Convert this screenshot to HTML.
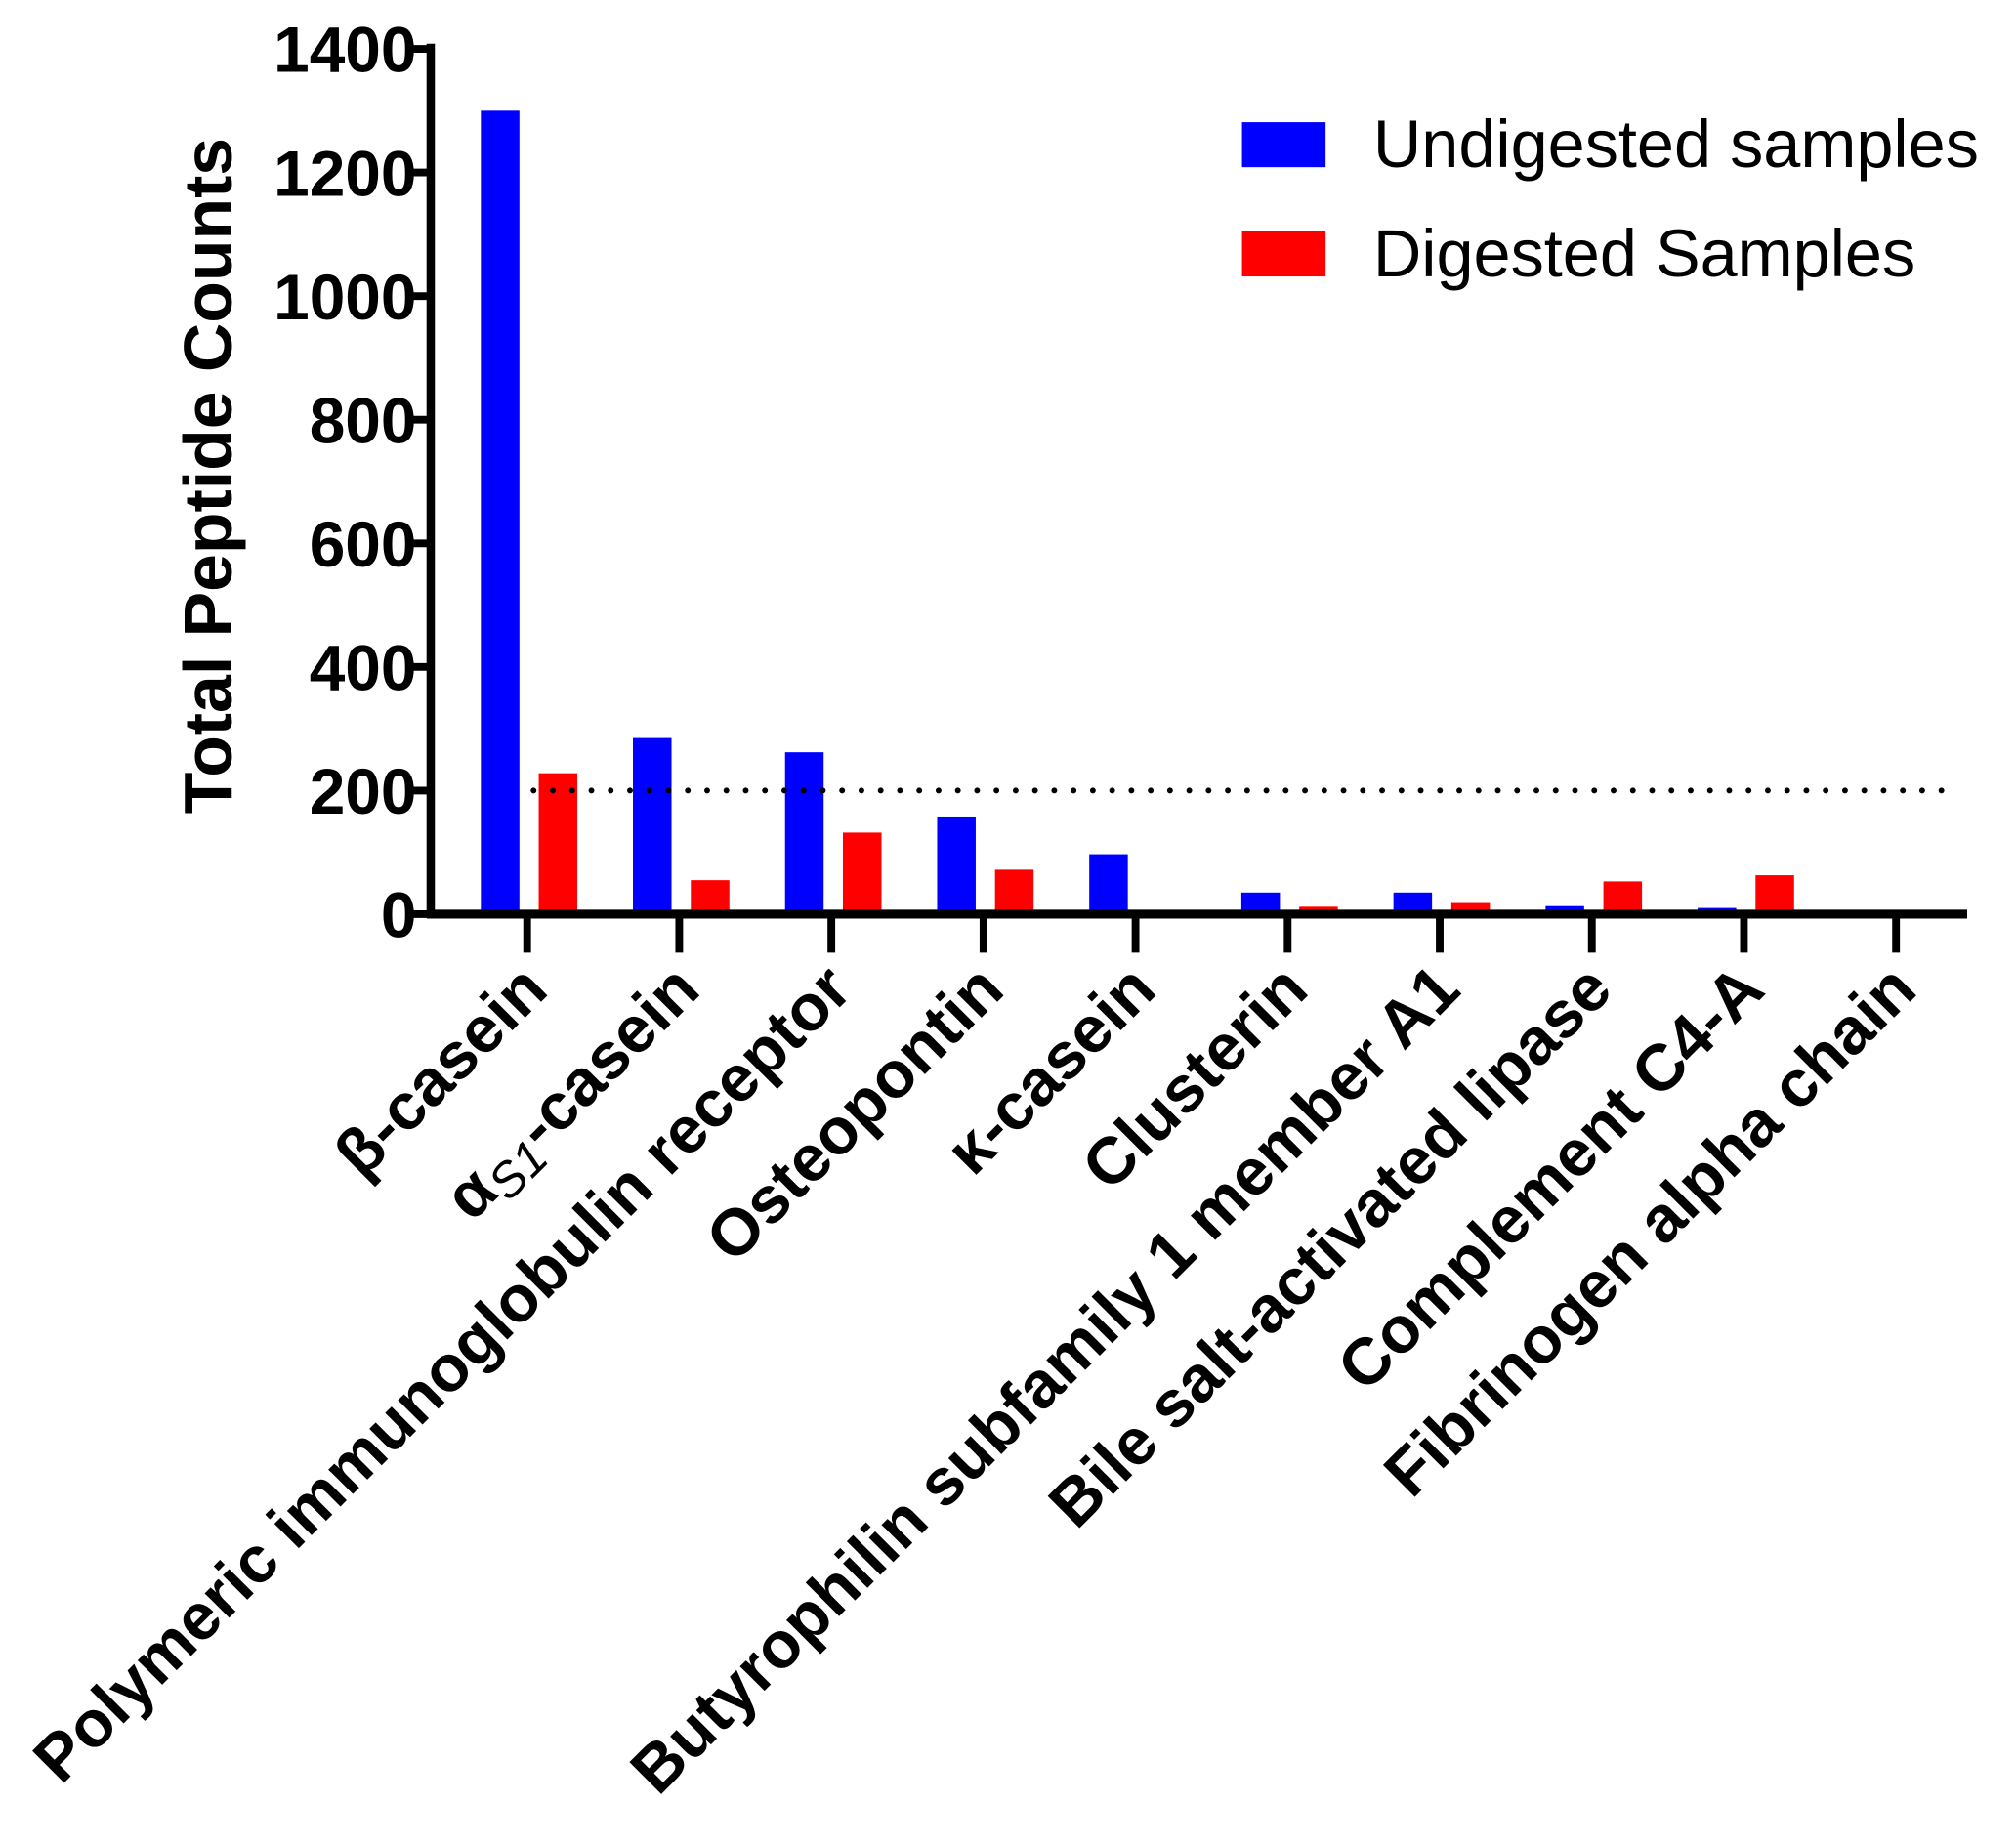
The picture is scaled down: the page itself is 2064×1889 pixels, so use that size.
<!DOCTYPE html>
<html><head><meta charset="utf-8"><style>
html,body{margin:0;padding:0;background:#fff;}
svg{display:block;font-family:"Liberation Sans",Arial,sans-serif;}
</style></head><body>
<svg id="chart" width="2064" height="1889" viewBox="0 0 1568 1435" xmlns="http://www.w3.org/2000/svg">
<g id="plot"></g>
</svg>
<script>
const categories = ["β-casein","αS1-casein","Polymeric immunoglobulin receptor","Osteopontin","κ-casein","Clusterin","Butyrophilin subfamily 1 member A1","Bile salt-activated lipase","Complement C4-A","Fibrinogen alpha chain"];
const undigested = [1300,285,262,158,97,35,35,13,10,5];
const digested = [228,55,132,72,0,12,18,53,63,0];
const yTicks = [0,200,400,600,800,1000,1200,1400];
const threshold = [200];

const NS="http://www.w3.org/2000/svg";
const g=document.getElementById('plot');
const x0=335, x1=1530, yTop=38, yBot=711, yMax=1400;
const yScale=v=>yBot-(v/yMax)*(yBot-yTop);
const xTick=i=>410+i*118.3;
function el(t,a,p){const e=document.createElementNS(NS,t);for(const k in a)e.setAttribute(k,a[k]);(p||g).appendChild(e);return e;}

categories.forEach((c,i)=>{
  const cx=xTick(i);
  let b=el('rect',{x:cx-36,y:yScale(undigested[i]),width:30,height:yBot-yScale(undigested[i]),fill:'#0000ff'});
  
  
  let r=el('rect',{x:cx+9,y:yScale(digested[i]),width:30,height:yBot-yScale(digested[i]),fill:'#ff0000'});
  
  
});
let th=el('line',{x1:415,x2:1525,y1:yScale(threshold[0]),y2:yScale(threshold[0]),stroke:'#000','stroke-width':4.5,'stroke-dasharray':'0 15','stroke-linecap':'round'});


let ya=el('line',{x1:x0,x2:x0,y1:34,y2:714,stroke:'#000','stroke-width':6.5});


let xa=el('line',{x1:332,x2:x1,y1:yBot,y2:yBot,stroke:'#000','stroke-width':7});


yTicks.forEach(v=>{
  const y=yScale(v);
  el('line',{x1:318,x2:x0,y1:y,y2:y,stroke:'#000','stroke-width':6});
  let t=el('text',{x:324,y:y+18,'text-anchor':'end','font-size':50,'font-weight':'bold'});
  t.textContent=v;
  
  
});
categories.forEach((c,i)=>{
  const cx=xTick(i);
  el('line',{x1:cx,x2:cx,y1:yBot,y2:741,stroke:'#000','stroke-width':6});
  const ax=cx+18, ay=772;
  let t=el('text',{x:ax,y:ay,'text-anchor':'end','font-size':51,'font-weight':'bold',transform:`rotate(-45 ${ax} ${ay})`});
  if(c.startsWith('αS1')){
    const a=el('tspan',{},t);a.textContent='α';
    const s=el('tspan',{'font-weight':'normal','font-style':'italic','font-size':38,dy:9},t);s.textContent='S1';
    const r=el('tspan',{dy:-9},t);r.textContent=c.slice(3);
  } else t.textContent=c;
  
  
});
let yt=el('text',{x:180,y:370,'text-anchor':'middle','font-size':53,'font-weight':'bold',transform:'rotate(-90 180 370)'});
yt.textContent='Total Peptide Counts';


let l1=el('rect',{x:966,y:95,width:65,height:35,fill:'#0000ff'});


let t1=el('text',{x:1068,y:130,'font-size':52});t1.textContent='Undigested samples';


let l2=el('rect',{x:966,y:180,width:65,height:35,fill:'#ff0000'});


let t2=el('text',{x:1068,y:215,'font-size':52});t2.textContent='Digested Samples';


</script>
</body></html>
